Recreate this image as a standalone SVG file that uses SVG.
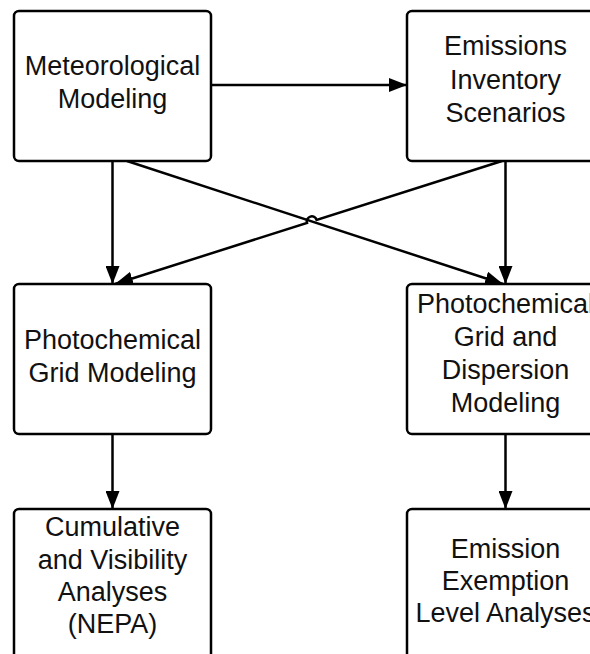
<svg xmlns="http://www.w3.org/2000/svg" width="590" height="654" viewBox="0 0 590 654">
<style>
.box{fill:#fff;stroke:#000;stroke-width:2.5}
.lbl{font-family:"Liberation Sans",Arial,sans-serif;font-size:27px;fill:#111;text-anchor:middle}
.conn{fill:none;stroke:#000;stroke-width:2.5}
</style>
<defs>
<marker id="ah" markerUnits="userSpaceOnUse" markerWidth="18" markerHeight="14" refX="18" refY="7" orient="auto" viewBox="0 0 18 14">
<path d="M0,0 L18,7 L0,14 z" fill="#000"/>
</marker>
</defs>
<rect width="590" height="654" fill="#fff"/>
<g id="connectors">
<line class="conn" x1="211" y1="85" x2="407" y2="85" marker-end="url(#ah)"/>
<line class="conn" x1="112.5" y1="161" x2="112.5" y2="284" marker-end="url(#ah)"/>
<line class="conn" x1="505.5" y1="161" x2="505.5" y2="284" marker-end="url(#ah)"/>
<line class="conn" x1="127" y1="161" x2="503" y2="284" marker-end="url(#ah)"/>
<path class="conn" d="M502,161 L316.6,219.9 A5,5 0 0 0 307,222.9 L115,284" marker-end="url(#ah)"/>
<line class="conn" x1="112.5" y1="434" x2="112.5" y2="509" marker-end="url(#ah)"/>
<line class="conn" x1="505.5" y1="434" x2="505.5" y2="509" marker-end="url(#ah)"/>
</g>
<g id="meteorological">
<rect class="box" x="14" y="11" width="197" height="150" rx="5"/>
<text class="lbl" x="112.5" y="75">Meteorological</text>
<text class="lbl" x="112.5" y="108">Modeling</text>
</g>
<g id="emissions">
<rect class="box" x="407" y="11" width="197" height="150" rx="5"/>
<text class="lbl" x="505.5" y="55">Emissions</text>
<text class="lbl" x="505.5" y="88.5">Inventory</text>
<text class="lbl" x="505.5" y="122">Scenarios</text>
</g>
<g id="photochem-grid">
<rect class="box" x="14" y="284" width="197" height="150" rx="5"/>
<text class="lbl" x="112.5" y="349">Photochemical</text>
<text class="lbl" x="112.5" y="382">Grid Modeling</text>
</g>
<g id="photochem-dispersion">
<rect class="box" x="407" y="284" width="197" height="150" rx="5"/>
<text class="lbl" x="505.5" y="313">Photochemical</text>
<text class="lbl" x="505.5" y="346">Grid and</text>
<text class="lbl" x="505.5" y="379">Dispersion</text>
<text class="lbl" x="505.5" y="412">Modeling</text>
</g>
<g id="cumulative">
<rect class="box" x="14" y="509" width="197" height="150" rx="5"/>
<text class="lbl" x="112.5" y="536">Cumulative</text>
<text class="lbl" x="112.5" y="568.5">and Visibility</text>
<text class="lbl" x="112.5" y="600.5">Analyses</text>
<text class="lbl" x="112.5" y="633">(NEPA)</text>
</g>
<g id="exemption">
<rect class="box" x="407" y="509" width="197" height="150" rx="5"/>
<text class="lbl" x="505.5" y="558">Emission</text>
<text class="lbl" x="505.5" y="590">Exemption</text>
<text class="lbl" x="505.5" y="622">Level Analyses</text>
</g>
</svg>
